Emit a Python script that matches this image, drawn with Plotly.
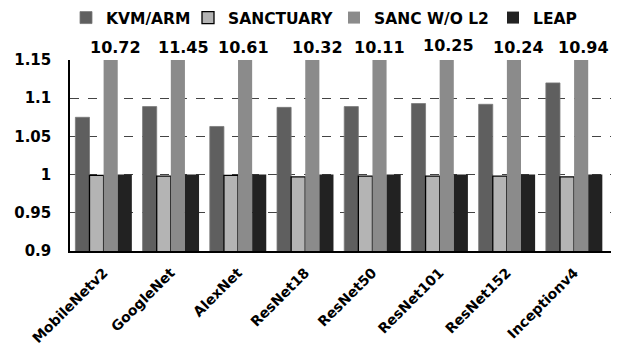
import plotly.graph_objects as go

categories = ["MobileNetv2", "GoogleNet", "AlexNet", "ResNet18", "ResNet50",
              "ResNet101", "ResNet152", "Inceptionv4"]
kvm_arm = [1.075, 1.089, 1.063, 1.088, 1.089, 1.093, 1.092, 1.120]
sanctuary = [0.999, 0.998, 0.999, 0.997, 0.998, 0.998, 0.998, 0.997]
sanc_wo_l2 = [10.72, 11.45, 10.61, 10.32, 10.11, 10.25, 10.24, 10.94]
leap = [1.0, 1.0, 1.0, 1.0, 1.0, 1.0, 1.0, 1.0]
y_ticks = [0.9, 0.95, 1.0, 1.05, 1.1, 1.15]
y_tick_text = ["0.9", "0.95", "1", "1.05", "1.1", "1.15"]

FONT = "DejaVu Sans"

# label placement (pixels relative to category center / plot top)
label_xshift = [11.5, 12.8, 5.8, 12.4, 6.8, 9.1, 11.4, 9.4]
label_yshift = [12.5, 12.5, 12.5, 12.5, 12.5, 15.0, 12.5, 12.5]

# legend entry left edges (pixels)
legend_left = [66, 188, 334, 493]

series = [
    ("KVM/ARM", kvm_arm, dict(color="#5f5f5f", line=dict(color="#7a7a7a", width=0.8))),
    ("SANCTUARY", sanctuary, dict(color="#b4b4b4", line=dict(color="#000000", width=1.3))),
    ("SANC W/O L2", sanc_wo_l2, dict(color="#8b8b8b", line=dict(width=0))),
    ("LEAP", leap, dict(color="#222222", line=dict(width=0))),
]

fig = go.Figure()
legend_layout = {}
for i, (name, vals, marker) in enumerate(series):
    key = "legend" if i == 0 else f"legend{i + 1}"
    fig.add_trace(go.Bar(name=name, x=categories, y=vals, marker=marker, legend=key))
    legend_layout[key] = dict(
        orientation="h", x=legend_left[i] / 621, xref="container", xanchor="left",
        y=1 - 18 / 349, yref="container", yanchor="middle",
        font=dict(family=FONT, size=15.5, weight="bold"),
        itemwidth=30, bgcolor="rgba(0,0,0,0)")

for cat, v, dx, dy in zip(categories, sanc_wo_l2, label_xshift, label_yshift):
    fig.add_annotation(x=cat, xref="x", y=1, yref="paper", text=f"<b>{v:.2f}</b>",
                       showarrow=False, xshift=dx, yshift=dy, yanchor="middle",
                       font=dict(family=FONT, size=16, color="#000000"))

fig.update_layout(
    width=621, height=349,
    margin=dict(l=70, r=10, t=60, b=98, autoexpand=False),
    paper_bgcolor="white", plot_bgcolor="white",
    barmode="group", bargap=0.16, bargroupgap=0,
    font=dict(family=FONT, size=15, color="#000000"),
    showlegend=True,
    **legend_layout,
)
fig.update_xaxes(showline=True, linecolor="#000000", linewidth=2, ticks="",
                 tickangle=-45, tickfont=dict(family=FONT, size=14, weight="bold"),
                 ticklabelstandoff=6, showgrid=False, automargin=False)
fig.update_yaxes(range=[0.9, 1.15], tickvals=y_ticks, ticktext=y_tick_text,
                 showline=True, linecolor="#000000", linewidth=1.5,
                 showgrid=True, gridcolor="#444444", griddash="dash", gridwidth=1,
                 ticks="", ticklabelstandoff=14, automargin=False,
                 tickfont=dict(family=FONT, size=15, weight="bold"), zeroline=False)

fig.write_html("out.html")
